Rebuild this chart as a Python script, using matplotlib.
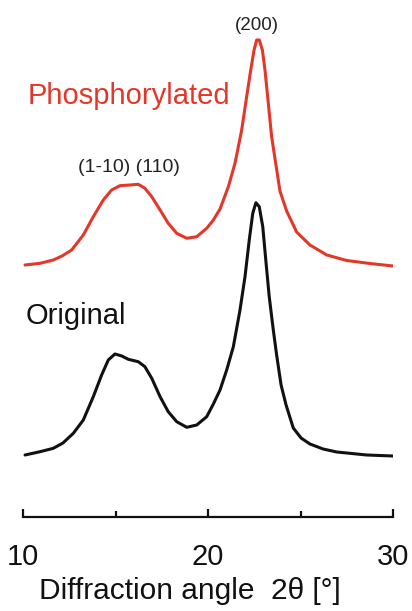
import matplotlib
matplotlib.use('Agg')
from matplotlib import pyplot as plt

# diffraction angle 2theta (deg) and intensity (a.u., traces offset)
phos_angle = [10.11, 10.92, 11.64, 12.11, 12.63, 13.26, 13.80, 14.34, 14.79, 15.24,
              15.78, 16.23, 16.59, 16.96, 17.41, 17.85, 18.31, 18.85, 19.39, 19.93,
              20.29, 20.65, 21.10, 21.46, 21.82, 22.09, 22.31, 22.49, 22.63, 22.77,
              22.94, 23.08, 23.26, 23.44, 23.66, 23.89, 24.25, 24.79, 25.51, 26.42,
              27.50, 28.76, 30.0]
phos_int = [252, 253.7, 257, 261, 267, 282, 300.3, 317, 327, 331.3,
            332, 332.7, 328.7, 320.3, 307, 293.7, 283.7, 278.7, 280.3, 288.7,
            297, 308, 330.3, 353.7, 387, 420.3, 447, 467, 477, 477,
            467, 447, 413.7, 380.3, 353.7, 326, 306, 285, 272, 262,
            256.5, 253.5, 251]

orig_angle = [10.11, 10.92, 11.64, 12.16, 12.72, 13.26, 13.80, 14.25, 14.61, 14.97,
              15.34, 15.69, 16.23, 16.59, 16.96, 17.41, 17.85, 18.31, 18.85, 19.39,
              19.93, 20.29, 20.65, 21.01, 21.37, 21.73, 22.00, 22.23, 22.42, 22.59,
              22.77, 22.96, 23.14, 23.31, 23.53, 23.71, 23.95, 24.22, 24.61, 25.03,
              25.51, 26.22, 26.96, 28.58, 30.0]
orig_int = [62, 65.3, 68.7, 74, 83.7, 97, 120.3, 142, 157, 163,
            161, 157.7, 155.3, 150.3, 138.7, 120.3, 105.3, 95.3, 89.7, 92,
            100.3, 113, 127, 147, 170.3, 207, 240.3, 277, 303.7, 314.3,
            310.3, 290.3, 253.7, 220.3, 187, 162, 132, 112, 89, 79,
            73, 68, 65, 62, 61]

x_ticks = [10, 20, 30]
x_minor = [15, 25]

RED = '#e4372a'
INK = '#111111'

plt.rcParams['font.family'] = ['Liberation Sans', 'DejaVu Sans']

fig = plt.figure(figsize=(4.12, 6.11), dpi=100)
W, H = 412, 611
ax = fig.add_axes([23 / W, (H - 517) / H, 370 / W, 517 / H])

ax.plot(phos_angle, phos_int, color=RED, linewidth=2.2,
        solid_capstyle='round', solid_joinstyle='round')
ax.plot(orig_angle, orig_int, color=INK, linewidth=2.2,
        solid_capstyle='round', solid_joinstyle='round')

ax.set_xlim(10, 30)
ax.set_ylim(0, 517)

for side in ['left', 'right', 'top']:
    ax.spines[side].set_visible(False)
ax.spines['bottom'].set_linewidth(1.6)
ax.spines['bottom'].set_color(INK)
ax.set_yticks([])
ax.set_xticks(x_ticks)
ax.set_xticks(x_minor, minor=True)
ax.tick_params(axis='x', which='major', direction='in', length=6, width=1.6,
               pad=19, labelsize=21, color=INK, labelcolor=INK)
ax.tick_params(axis='x', which='minor', direction='in', length=4.5, width=1.6,
               color=INK)

ax.set_xlabel('Diffraction angle  2\u03b8 [\u00b0]', fontsize=21.5, color=INK)
ax.xaxis.set_label_coords(0.451, -0.117)

ax.text(10.27, 413, 'Phosphorylated', color=RED, fontsize=21, ha='left', va='baseline')
ax.text(10.15, 193, 'Original', color=INK, fontsize=21, ha='left', va='baseline')
ax.text(22.65, 492, '(200)', color='#222222', fontsize=13.5, ha='center', va='center')
ax.text(15.7, 350, '(1-10) (110)', color='#222222', fontsize=14, ha='center', va='center')

fig.savefig('out.png', dpi=100)
